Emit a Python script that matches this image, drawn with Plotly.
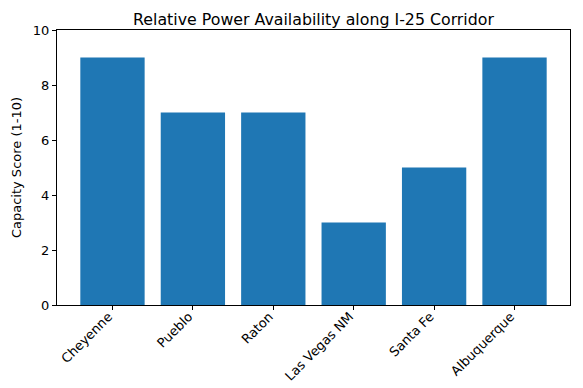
import plotly.graph_objects as go

cities = ["Cheyenne", "Pueblo", "Raton", "Las Vegas NM", "Santa Fe", "Albuquerque"]
scores = [9, 7, 7, 3, 5, 9]
y_ticks = [0, 2, 4, 6, 8, 10]

# page body has an 8px margin; compensate
W, H, OFF = 583 - 8, 388 - 8, 8

fig = go.Figure(go.Bar(
    x=list(range(len(cities))), y=scores, width=0.8,
    marker=dict(color="#1f77b4", line=dict(width=0)),
))
font = "DejaVu Sans"
fig.update_layout(
    width=W, height=H,
    margin=dict(l=57 - OFF, r=13, t=30 - OFF, b=83),
    paper_bgcolor="white", plot_bgcolor="white",
    showlegend=False,
    title=dict(text="Relative Power Availability along I-25 Corridor",
               x=((57 + 570) / 2 - OFF) / W, xanchor="center", y=1 - (19 - OFF) / H, yanchor="middle",
               font=dict(family=font, size=15.8, color="black")),
    font=dict(family=font, color="black"),
)
fig.update_xaxes(
    range=[-0.69, 5.69], tickmode="array", tickvals=list(range(len(cities))), ticktext=cities,
    tickangle=-45, ticks="outside", ticklen=4, tickcolor="black", automargin=False,
    ticklabelstandoff=-6, ticklabelshift=-4,
    showline=True, linecolor="black", linewidth=1, mirror=True,
    showgrid=False, zeroline=False, tickfont=dict(size=13, family=font),
)
fig.update_yaxes(
    range=[0, 10], tickvals=y_ticks, ticks="outside", ticklen=4, tickcolor="black", automargin=False,
    showline=True, linecolor="black", linewidth=1, mirror=True,
    showgrid=False, zeroline=False, tickfont=dict(size=13, family=font),
    title=dict(text="Capacity Score (1-10)", font=dict(size=13, family=font), standoff=8),
)
fig.write_html("out.html")
